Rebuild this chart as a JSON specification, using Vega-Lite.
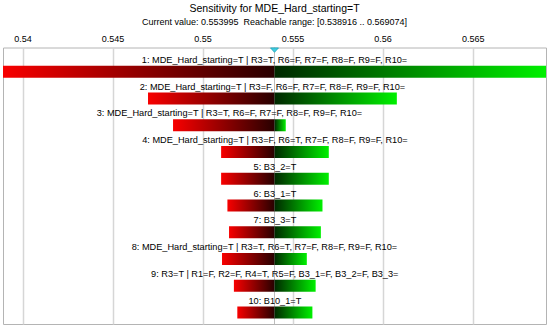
{
  "$schema": "https://vega.github.io/schema/vega-lite/v6.json",
  "width": 543,
  "height": 276.5,
  "autosize": {"type": "none"},
  "padding": {"left": 3, "top": 47.5, "right": 4, "bottom": 1},
  "background": "white",
  "title": {
    "text": "Sensitivity for MDE_Hard_starting=T",
    "subtitle": "Current value: 0.553995\u00a0 Reachable range: [0.538916 .. 0.569074]",
    "font": "Liberation Sans",
    "subtitleFont": "Liberation Sans",
    "fontSize": 10.5,
    "subtitleFontSize": 9,
    "fontWeight": "normal",
    "color": "#000000",
    "subtitleColor": "#000000",
    "anchor": "middle",
    "offset": 8,
    "subtitlePadding": 3
  },
  "config": {
    "view": {"stroke": "#b4b4b4"},
    "text": {"font": "Liberation Sans"}
  },
  "data": {
    "values": [
      {"rank": 1, "label": "1: MDE_Hard_starting=T | R3=T, R6=F, R7=F, R8=F, R9=F, R10=", "lo": 0.538916, "cur": 0.553995, "hi": 0.569074},
      {"rank": 2, "label": "2: MDE_Hard_starting=T | R3=F, R6=F, R7=F, R8=F, R9=F, R10=", "lo": 0.54697, "cur": 0.553995, "hi": 0.56079},
      {"rank": 3, "label": "3: MDE_Hard_starting=T | R3=T, R6=F, R7=F, R8=F, R9=F, R10=", "lo": 0.54836, "cur": 0.553995, "hi": 0.55462},
      {"rank": 4, "label": "4: MDE_Hard_starting=T | R3=F, R6=T, R7=F, R8=F, R9=F, R10=", "lo": 0.55103, "cur": 0.553995, "hi": 0.55701},
      {"rank": 5, "label": "5: B3_2=T", "lo": 0.55103, "cur": 0.553995, "hi": 0.55701},
      {"rank": 6, "label": "6: B3_1=T", "lo": 0.55138, "cur": 0.553995, "hi": 0.55666},
      {"rank": 7, "label": "7: B3_3=T", "lo": 0.55147, "cur": 0.553995, "hi": 0.55657},
      {"rank": 8, "label": "8: MDE_Hard_starting=T | R3=T, R6=T, R7=F, R8=F, R9=F, R10=", "lo": 0.55108, "cur": 0.553995, "hi": 0.55579},
      {"rank": 9, "label": "9: R3=T | R1=F, R2=F, R4=T, R5=F, B3_1=F, B3_2=F, B3_3=", "lo": 0.55174, "cur": 0.553995, "hi": 0.55628},
      {"rank": 10, "label": "10: B10_1=T", "lo": 0.55193, "cur": 0.553995, "hi": 0.5561}
    ]
  },
  "layer": [
    {
      "transform": [{"filter": "datum.rank == 1"}],
      "mark": {"type": "rule", "color": "#bdbdbd", "strokeWidth": 1},
      "encoding": {
        "x": {
          "field": "cur", "type": "quantitative",
          "scale": {"domain": [0.538916, 0.569074], "nice": false, "zero": false},
          "axis": {
            "orient": "top", "title": null,
            "values": [0.54, 0.545, 0.55, 0.555, 0.56, 0.565],
            "format": ".3~f",
            "grid": true, "gridColor": "#d6d6d6", "gridWidth": 1.5,
            "ticks": false, "domain": false,
            "labelFont": "Liberation Sans", "labelFontSize": 9, "labelColor": "#000000",
            "labelPadding": 4
          }
        }
      }
    },
    {
      "mark": {
        "type": "bar",
        "height": 12,
        "fill": {"gradient": "linear", "stops": [{"offset": 0, "color": "#f80000"}, {"offset": 1, "color": "#280000"}]}
      },
      "encoding": {
        "x": {"field": "lo", "type": "quantitative"},
        "x2": {"field": "cur"},
        "y": {"field": "rank", "type": "quantitative", "scale": {"domain": [0.28, 10.24], "reverse": true, "nice": false, "zero": false}, "axis": null}
      }
    },
    {
      "mark": {
        "type": "bar",
        "height": 12,
        "fill": {"gradient": "linear", "stops": [{"offset": 0, "color": "#002800"}, {"offset": 1, "color": "#00f000"}]}
      },
      "encoding": {
        "x": {"field": "cur", "type": "quantitative"},
        "x2": {"field": "hi"},
        "y": {"field": "rank", "type": "quantitative"}
      }
    },
    {
      "transform": [{"calculate": "(datum.lo + datum.hi) / 2", "as": "mid"}],
      "mark": {"type": "text", "dy": -12, "fontSize": 9.2, "color": "#000000", "baseline": "middle", "align": "center"},
      "encoding": {
        "x": {"field": "mid", "type": "quantitative"},
        "y": {"field": "rank", "type": "quantitative"},
        "text": {"field": "label"}
      }
    },
    {
      "transform": [{"filter": "datum.rank == 1"}],
      "mark": {"type": "point", "shape": "M-1,-0.55L1,-0.55L0,0.55Z", "size": 64, "filled": true, "fill": "#40cde0", "stroke": "#1aa5bb", "strokeWidth": 0.8, "opacity": 1},
      "encoding": {
        "x": {"field": "cur", "type": "quantitative"},
        "y": {"datum": 0.19}
      }
    }
  ]
}
